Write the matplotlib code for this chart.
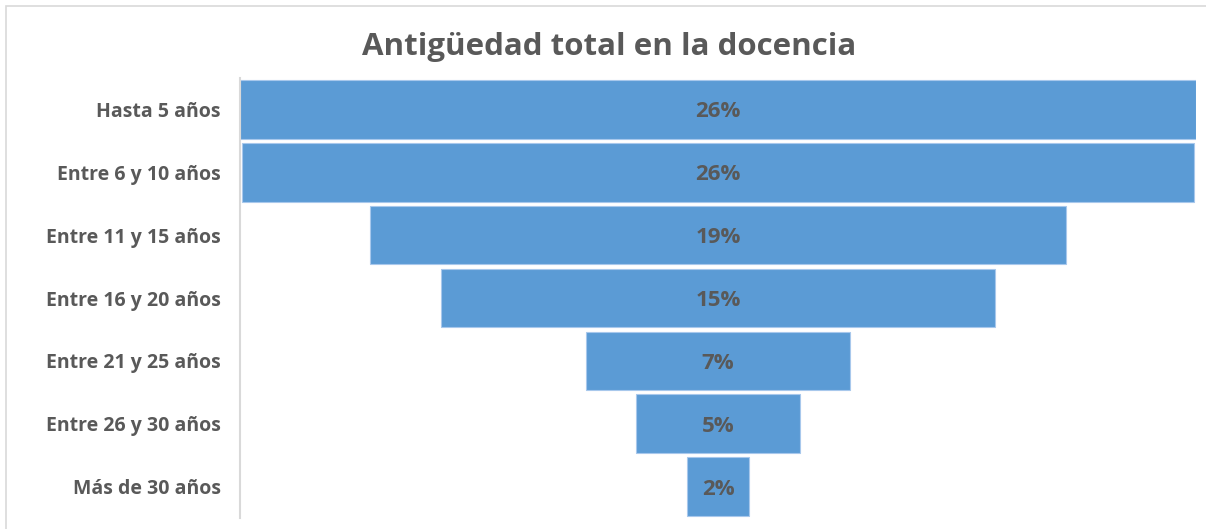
import matplotlib.pyplot as plt
from matplotlib.patches import Rectangle

categories = ['Hasta 5 años', 'Entre 6 y 10 años', 'Entre 11 y 15 años',
              'Entre 16 y 20 años', 'Entre 21 y 25 años', 'Entre 26 y 30 años',
              'Más de 30 años']
values = [26.1, 26.0, 19.0, 15.1, 7.2, 4.5, 1.7]
labels = ['26%', '26%', '19%', '15%', '7%', '5%', '2%']

plt.rcParams['font.family'] = ['Open Sans', 'DejaVu Sans']
GRAY = '#595959'
BLUE = '#5b9bd5'

W, H = 1206, 529
fig = plt.figure(figsize=(W / 100, H / 100), dpi=100)

# outer chart frame (only top/left visible in the crop)
fig.patches.append(Rectangle((6 / W, -0.1), 1.2, 1 - 6 / H + 0.1, transform=fig.transFigure,
                             fill=False, edgecolor='#d9d9d9', linewidth=1.2))

ax = fig.add_axes([240 / W, 11 / H, 956 / W, 440 / H])
n = len(categories)
ypos = list(range(n))
left = [-v / 2 for v in values]
ax.barh(ypos, values, left=left, height=0.93, color=BLUE,
        edgecolor='#a8c8ec', linewidth=0.8)

for y, lab in zip(ypos, labels):
    ax.text(0, y + 0.04, lab, ha='center', va='center', fontsize=16,
            fontweight='bold', color=GRAY)

m = max(values)
ax.set_xlim(-m / 2, m / 2)
ax.set_ylim(n - 0.5, -0.5)
ax.set_yticks(ypos)
ax.set_yticklabels(categories, fontsize=14, fontweight='bold', color=GRAY,
                   va='center_baseline')
ax.tick_params(axis='y', length=0, pad=14)
ax.set_xticks([])
for s in ['top', 'right', 'bottom']:
    ax.spines[s].set_visible(False)
ax.spines['left'].set_color('#d9d9d9')
ax.spines['left'].set_linewidth(1.5)

fig.text(609 / W, 1 - 47 / H, 'Antigüedad total en la docencia', ha='center',
         va='center', fontsize=22.5, fontweight='bold', color=GRAY)

fig.savefig('out.png', dpi=100, facecolor='white')
